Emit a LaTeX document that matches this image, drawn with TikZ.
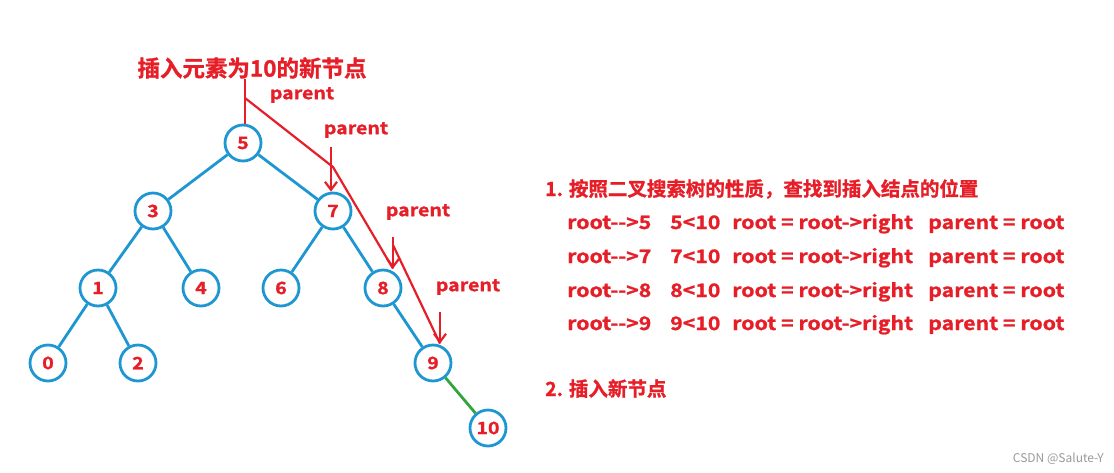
\documentclass[tikz,border=0pt]{standalone}
\usepackage{fontspec}
\newfontfamily\cjk{Noto Sans CJK SC}[BoldFont={Noto Sans CJK SC Bold},BoldFeatures={FakeBold=1.2}]
\newfontfamily\lat{Noto Sans CJK SC}[BoldFont={Noto Sans CJK SC Bold},BoldFeatures={FakeStretch=1.15,FakeBold=1.2}]
\usetikzlibrary{arrows.meta,positioning}
\definecolor{tred}{RGB}{230,30,40}
\definecolor{tblue}{RGB}{30,150,210}
\definecolor{tgreen}{RGB}{50,165,60}

\begin{document}
\begin{tikzpicture}[x=1pt,y=-1pt,
	bnode/.style={circle,draw=tblue,line width=2.8pt,minimum size=36pt,inner sep=0pt,
		text=tred,font=\lat\bfseries\fontsize{17}{17}\selectfont},
	link/.style={tblue,line width=2.8pt},
	redline/.style={tred,line width=2.2pt},
	ptr/.style={redline,-{Straight Barb[length=8pt,width=12pt,line width=2.2pt]}},
	ptag/.style={text=tred,inner sep=0pt,font=\lat\bfseries\fontsize{17}{17}\selectfont},
	rowtext/.style={text=tred,inner sep=0pt,anchor=base west,font=\lat\bfseries\fontsize{18.5}{18.5}\selectfont},
	headtext/.style={text=tred,inner sep=0pt,anchor=base west,font=\cjk\bfseries\fontsize{19.5}{19.5}\selectfont}]
\useasboundingbox (0,0) rectangle (1114,472);

% the tree
\node[bnode] (n5) at (243,143) {5};
\node[bnode] (n3) at (153,211) {3};
\node[bnode] (n7) at (333,211) {7};
\node[bnode] (n1) at (98,288) {1};
\node[bnode] (n4) at (201,288) {4};
\node[bnode] (n6) at (281,288) {6};
\node[bnode] (n8) at (383,288) {8};
\node[bnode] (n0) at (48,363) {0};
\node[bnode] (n2) at (138,363) {2};
\node[bnode] (n9) at (433,363) {9};
\node[bnode] (n10) at (488,428) {10};
\foreach \a/\b in {5/3,5/7,3/1,3/4,7/6,7/8,1/0,1/2,8/9}
	\draw[link] (n\a) -- (n\b);
\draw[tgreen,line width=2.8pt] (n9) -- (n10);

% the search path
\node[ptag,font=\cjk\bfseries\fontsize{22.5}{22.5}\selectfont] (title) at (252,68) {插入元素为10的新节点};
\node[ptag] (p5) at (302,95) {parent};
\node[ptag] (p7) at (356,130) {parent};
\node[ptag] (p8) at (418,212) {parent};
\node[ptag] (p9) at (468,287) {parent};
\coordinate (d0) at (245,98);
\coordinate (a7) at (331,147);
\coordinate (a8) at (393,237);
\coordinate (a9) at (440,312);
\coordinate (b7) at (333,167);
\coordinate (b8) at (393,245);
\draw[redline] (title.south -| d0) -- (d0 |- n5.north);
\draw[ptr] (a7) -- (a7 |- n7.north);
\draw[ptr] (a8) -- (a8 |- n8.north);
\draw[ptr] (a9) -- (a9 |- n9.north);
\draw[redline] (d0) -- (b7) -- (a8 |- n8.north);
\draw[redline] (b8) -- (a9 |- n9.north);

% the steps
\node[headtext] (s1) at (545,196) {1. 按照二叉搜索树的性质，查找到插入结点的位置};
\foreach \k/\y in {5/229,7/263,8/297,9/330}{
	\node[rowtext] (r\k) at (567,\y) {root-->\k};
	\node[rowtext] (c\k) at (670,\y) {\k<10};
	\node[rowtext] (m\k) at (732,\y) {root = root->right};
	\node[rowtext] (q\k) at (928,\y) {parent = root};
}
\node[headtext] (s2) at (545,396) {2. 插入新节点};
\node[anchor=base east,inner sep=0pt,text=gray!80,font=\cjk\fontsize{12}{12}\selectfont] (wm) at (1104,462) {CSDN @Salute-Y};
\end{tikzpicture}
\end{document}
